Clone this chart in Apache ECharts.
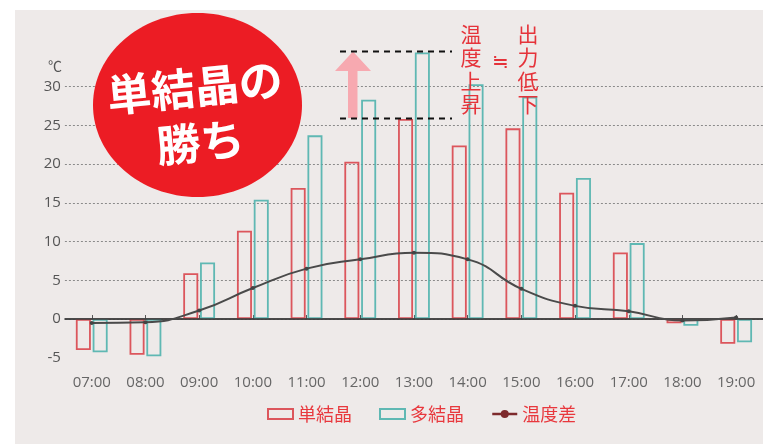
<!DOCTYPE html>
<html>
<head>
<meta charset="utf-8">
<script src="https://cdn.jsdelivr.net/npm/echarts@6/dist/echarts.min.js"></script>
<style>
html,body{margin:0;padding:0;background:#fff;}
#chart{width:763px;height:444px;}
</style>
</head>
<body>
<div id="chart"></div>
<script>
const categories = ['07:00','08:00','09:00','10:00','11:00','12:00','13:00','14:00','15:00','16:00','17:00','18:00','19:00'];
const monoValues = [-4.0, -4.6, 5.9, 11.4, 16.9, 20.3, 25.8, 22.4, 24.6, 16.3, 8.6, -0.55, -3.2];
const polyValues = [-4.3, -4.8, 7.3, 15.4, 23.7, 28.3, 34.4, 30.3, 28.7, 18.2, 9.8, -0.86, -3.0];
const diffValues = [-0.5, -0.4, 1.1, 4.0, 6.5, 7.7, 8.55, 7.7, 3.9, 1.7, 1.0, -0.2, 0.2];
const seriesNames = ['単結晶', '多結晶', '温度差'];
const yTicks = { min: -5, max: 30, interval: 5 };

const chart = echarts.init(document.getElementById('chart'), null, {renderer: 'canvas'});
const cjk = '"Noto Sans CJK JP", "Noto Sans", sans-serif';
const num = '"Open Sans", "DejaVu Sans", sans-serif';
const RED = '#d9464c';
const TEAL = '#4fb3ad';

const option = {
  backgroundColor: '#ffffff',
  animation: false,
  grid: { left: 64.9, top: 86.5, bottom: 86.2, width: 705.5, containLabel: false },
  legend: {
    left: 262, top: 400,
    itemWidth: 25, itemHeight: 10, itemGap: 27,
    textStyle: { color: '#e8383d', fontSize: 18, fontFamily: cjk },
    data: [
      { name: seriesNames[0], icon: 'rect', itemStyle: { color: 'transparent', borderColor: RED, borderWidth: 2 } },
      { name: seriesNames[1], icon: 'rect', itemStyle: { color: 'transparent', borderColor: TEAL, borderWidth: 2 } },
      { name: seriesNames[2], itemStyle: { color: '#7d2a2c' }, lineStyle: { color: '#7d2a2c', width: 2.5 } }
    ]
  },
  xAxis: {
    type: 'category',
    data: categories,
    offset: 13,
    axisLine: { lineStyle: { color: '#555', width: 1.5 } },
    axisTick: { show: true, alignWithLabel: true, inside: true, length: 4, lineStyle: { color: '#555' } },
    axisLabel: { color: '#666', fontSize: 15, margin: 4, fontFamily: num }
  },
  yAxis: {
    type: 'value',
    min: yTicks.min, max: yTicks.max, interval: yTicks.interval,
    axisLine: { show: false },
    axisTick: { show: false },
    axisLabel: { color: '#555', fontSize: 15, margin: 4, fontFamily: num },
    splitLine: { show: true, showMinLine: false, lineStyle: { color: '#8a8a8a', type: [2, 2], width: 1 } }
  },
  series: [
    {
      name: seriesNames[0], type: 'bar', data: monoValues, barWidth: 15, barGap: '12%', clip: false,
      itemStyle: { color: 'transparent', borderColor: RED, borderWidth: 1.8, opacity: 0.9 },
      markLine: {
        silent: true, symbol: 'none', label: { show: false },
        lineStyle: { color: '#3a3a3a', type: 'solid', width: 1.5 },
        data: [{ yAxis: 0 }]
      }
    },
    {
      name: seriesNames[1], type: 'bar', data: polyValues, barWidth: 15, clip: false,
      itemStyle: { color: 'transparent', borderColor: TEAL, borderWidth: 1.8, opacity: 0.9 }
    },
    {
      name: seriesNames[2], type: 'line', data: diffValues, smooth: true, z: 5,
      symbol: 'circle', symbolSize: 4,
      itemStyle: { color: '#444' },
      lineStyle: { color: '#4a4a4a', width: 2 }
    }
  ],
  graphic: [
    { type: 'rect', z: -10, silent: true, shape: { x: 15, y: 10, width: 760, height: 440 }, style: { fill: '#eeeae9' } },
    { type: 'text', z: 10, x: 62, y: 66, style: { text: '℃', fill: '#555', fontSize: 14, fontFamily: cjk, align: 'right', verticalAlign: 'middle' } },
    { type: 'ellipse', z: 20, shape: { cx: 197.5, cy: 105, rx: 104.5, ry: 92 }, style: { fill: '#ec1c24' } },
    { type: 'text', z: 21, x: 197.5, y: 114.5, rotation: 0.1,
      style: { text: '単結晶の\n勝ち', x: 0, y: 0, align: 'center', verticalAlign: 'middle', fill: '#ffffff', fontSize: 44, fontWeight: 'bold', lineHeight: 55, fontFamily: cjk } },
    { type: 'polygon', z: 20, shape: { points: [[353, 51.5], [371, 71], [357.5, 71], [357.5, 118], [348, 118], [348, 71], [335, 71]] }, style: { fill: '#f7a9b0' } },
    { type: 'line', z: 20, shape: { x1: 340, y1: 51.5, x2: 452, y2: 51.5 }, style: { stroke: '#111', lineWidth: 2, lineDash: [6, 5] } },
    { type: 'line', z: 20, shape: { x1: 340, y1: 118.5, x2: 452, y2: 118.5 }, style: { stroke: '#111', lineWidth: 2, lineDash: [6, 5] } },
    { type: 'text', z: 20, x: 471, y: 69, style: { text: '温\n度\n上\n昇', align: 'center', verticalAlign: 'middle', fill: '#e5333a', fontSize: 21, lineHeight: 23.3, fontFamily: cjk } },
    { type: 'text', z: 20, x: 500, y: 60, style: { text: '≒', align: 'center', verticalAlign: 'middle', fill: '#e5333a', fontSize: 20, fontFamily: cjk } },
    { type: 'text', z: 20, x: 528, y: 69, style: { text: '出\n力\n低\n下', align: 'center', verticalAlign: 'middle', fill: '#e5333a', fontSize: 21, lineHeight: 23.3, fontFamily: cjk } }
  ]
};
chart.setOption(option);
</script>
</body>
</html>
